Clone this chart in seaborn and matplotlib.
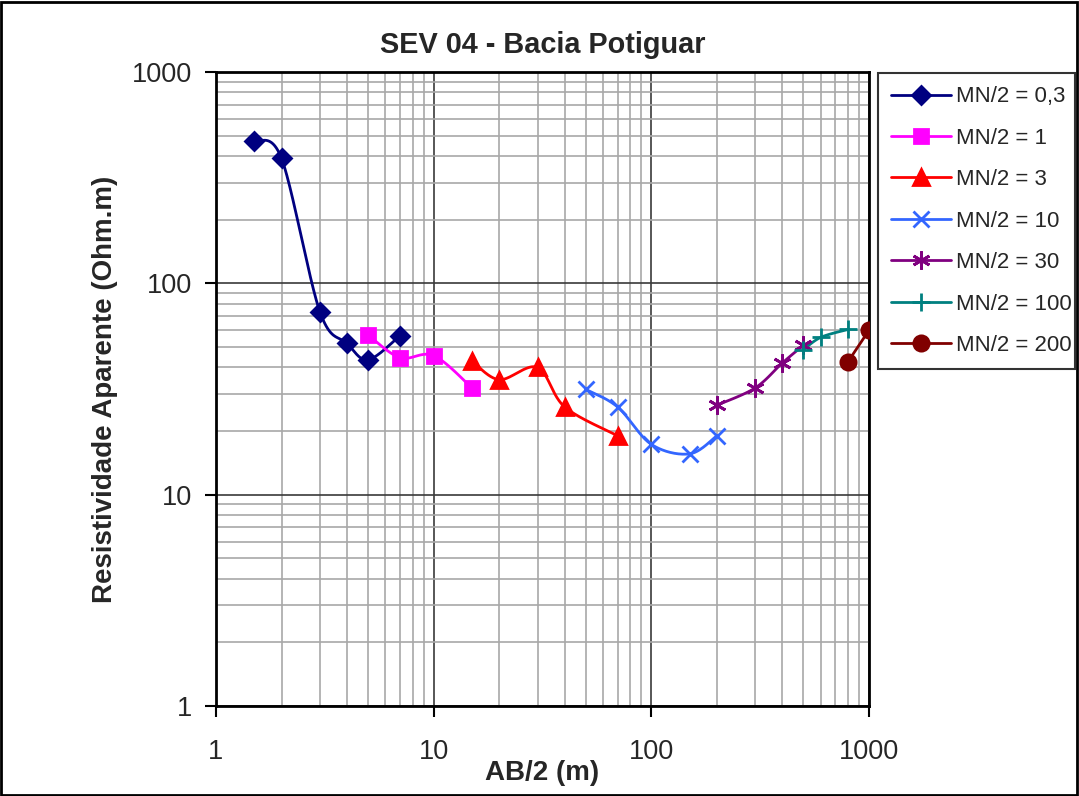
import numpy as np
import pandas as pd
import matplotlib
matplotlib.use("Agg")
import matplotlib.pyplot as plt
from matplotlib.lines import Line2D
from matplotlib.patches import Rectangle
from matplotlib.ticker import LogLocator, FixedLocator, NullFormatter
import seaborn as sns

# Apparent resistivity readings (AB/2 in m, rho in Ohm.m) for each MN/2 spacing
ab_03 = [1.5, 2, 3, 4, 5, 7]
rho_03 = [470, 390, 73.5, 52, 43.5, 56.5]

ab_1 = [5, 7, 10, 15]
rho_1 = [57, 44.5, 45.5, 32]

ab_3 = [15, 20, 30, 40, 70]
rho_3 = [43, 35, 40, 26, 19]

ab_10 = [50, 70, 100, 150, 200]
rho_10 = [31.5, 26, 17.3, 15.6, 19]

ab_30 = [200, 300, 400, 500]
rho_30 = [26.5, 32, 42, 51]

ab_100 = [500, 600, 800]
rho_100 = [48.5, 55.5, 60.5]

ab_200 = [800, 1000]
rho_200 = [42.5, 60]

labels = ["MN/2 = 0,3", "MN/2 = 1", "MN/2 = 3", "MN/2 = 10",
          "MN/2 = 30", "MN/2 = 100", "MN/2 = 200"]
colors = ["#000080", "#FF00FF", "#FF0000", "#3366FF",
          "#800080", "#008080", "#800000"]
markers = ["D", "s", "^", "x", (6, 2, 0), "+", "o"]
msizes = [9, 10, 11, 12, 13, 13, 11]

series = [(ab_03, rho_03), (ab_1, rho_1), (ab_3, rho_3), (ab_10, rho_10),
          (ab_30, rho_30), (ab_100, rho_100), (ab_200, rho_200)]


def smooth_curve(xs, ys, n=40):
    """Bezier smoothing (Catmull-Rom control points) in log-log space."""
    lx = np.log10(np.asarray(xs, float))
    ly = np.log10(np.asarray(ys, float))
    pts = np.column_stack([lx, ly])
    if len(pts) < 3:
        return xs, ys
    padded = np.vstack([pts[0], pts, pts[-1]])
    out = []
    t = np.linspace(0, 1, n)[:, None]
    for i in range(1, len(padded) - 2):
        p0, p1, p2, p3 = padded[i - 1], padded[i], padded[i + 1], padded[i + 2]
        c1 = p1 + (p2 - p0) / 6.0
        c2 = p2 - (p3 - p1) / 6.0
        seg = ((1 - t) ** 3) * p1 + 3 * ((1 - t) ** 2) * t * c1 \
            + 3 * (1 - t) * t ** 2 * c2 + t ** 3 * p2
        out.append(seg if i == 1 else seg[1:])
    curve = np.vstack(out)
    return 10 ** curve[:, 0], 10 ** curve[:, 1]


sns.set_theme(style="white")
plt.rcParams["font.family"] = ["Liberation Sans", "DejaVu Sans"]

fig = plt.figure(figsize=(10.79, 7.96), dpi=100)
fig.patch.set_facecolor("white")
ax = fig.add_axes([216 / 1079, 1 - 706 / 796, (869 - 216) / 1079, (706 - 72) / 796])
ax.set_facecolor("white")

for (xs, ys), lab, col, mk, ms in zip(series, labels, colors, markers, msizes):
    sx, sy = smooth_curve(xs, ys)
    curve = pd.DataFrame({"x": sx, "y": sy})
    sns.lineplot(data=curve, x="x", y="y", ax=ax, color=col, lw=2,
                 sort=False, estimator=None, zorder=3)
    pts = pd.DataFrame({"x": xs, "y": ys})
    ax.plot(pts["x"], pts["y"], linestyle="none", marker=mk, ms=ms,
            color=col, mec=col, mew=2, zorder=4)

ax.set_xscale("log")
ax.set_yscale("log")
ax.set_xlim(1, 1000)
ax.set_ylim(1, 1000)

ax.xaxis.set_major_locator(FixedLocator([1, 10, 100, 1000]))
ax.yaxis.set_major_locator(FixedLocator([1, 10, 100, 1000]))
ax.xaxis.set_minor_locator(LogLocator(base=10, subs=np.arange(2, 10)))
ax.yaxis.set_minor_locator(LogLocator(base=10, subs=np.arange(2, 10)))
ax.xaxis.set_minor_formatter(NullFormatter())
ax.yaxis.set_minor_formatter(NullFormatter())
ax.set_xticklabels(["1", "10", "100", "1000"])
ax.set_yticklabels(["1", "10", "100", "1000"])

ax.grid(which="minor", color="#a8a8a8", lw=1.2, zorder=0)
ax.grid(which="major", color="#3a3a3a", lw=1.2, zorder=0)
ax.set_axisbelow(True)

ax.tick_params(axis="both", which="major", direction="out", length=8,
               width=1.5, color="black", labelsize=19.5, bottom=True, left=True)
ax.tick_params(axis="x", which="major", pad=16)
ax.tick_params(axis="y", which="major", pad=9)
ax.tick_params(which="minor", length=0)

for sp in ax.spines.values():
    sp.set_visible(True)
    sp.set_color("black")
    sp.set_linewidth(2)

ax.set_title("SEV 04 - Bacia Potiguar", fontsize=20.8, fontweight="bold", pad=13.5)
ax.set_xlabel("AB/2 (m)", fontsize=20, fontweight="bold", labelpad=-4)
ax.set_ylabel("Resistividade Aparente (Ohm.m)", fontsize=20, fontweight="bold", labelpad=10)

handles = [Line2D([], [], color=c, lw=2, marker=m, ms=s, mec=c, mew=2)
           for c, m, s in zip(colors, markers, msizes)]
leg = fig.legend(handles, labels, loc="upper left",
                 bbox_to_anchor=(878 / 1079, 1 - 73 / 796, 197 / 1079, 0),
                 mode="expand", fontsize=16, frameon=True, fancybox=False,
                 handlelength=2.7, handletextpad=0.2, labelspacing=0.92,
                 borderpad=0.6, borderaxespad=0)
leg.get_frame().set_edgecolor("black")
leg.get_frame().set_linewidth(1.5)

fig.patches.append(Rectangle((0.001, 0.001), 0.997, 0.997, transform=fig.transFigure,
                             fill=False, edgecolor="black", lw=2))

fig.savefig("out.png", dpi=100)
